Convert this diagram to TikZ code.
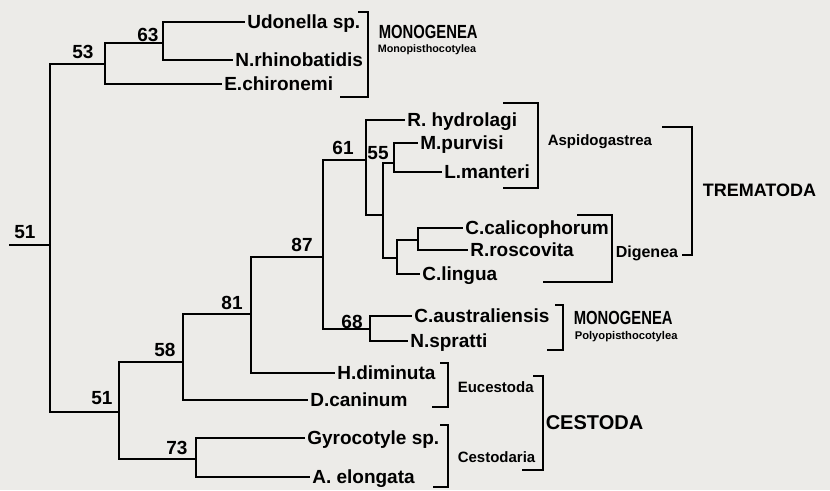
\documentclass[tikz,border=0pt]{standalone}
\usepackage{fontspec}
\setmainfont{Liberation Sans}
\newfontfamily\narrowsans[FakeStretch=0.78]{Liberation Sans}
\usepackage{tikz}
\definecolor{paper}{RGB}{236,235,232}

\begin{document}
\begin{tikzpicture}[x=1pt,y=-1pt, line width=1.6pt,
  every node/.style={font=\bfseries\fontsize{19}{21}\selectfont},
  taxon/.style={anchor=west, inner xsep=1.5pt, inner ysep=0pt, text height=13.6pt, text depth=0pt},
  boot/.style={inner sep=0pt},
  group/.style={anchor=west, inner sep=0pt},
  narrowgroup/.style={group, font=\narrowsans\bfseries\fontsize{19}{21}\selectfont},
  subgroup/.style={group, font=\bfseries\fontsize{15}{17}\selectfont},
  tinygroup/.style={group, font=\bfseries\fontsize{10.8}{12}\selectfont}]
  \fill[paper] (0,0) rectangle (830,490);
  \useasboundingbox (0,0) rectangle (830,490);

  % internal nodes of the tree
  \coordinate (rs) at (9,245);
  \coordinate (root) at (50,245);
  \coordinate (n53) at (105,64);
  \coordinate (n63) at (163,43);
  \coordinate (n51) at (119,412);
  \coordinate (n58) at (183,362);
  \coordinate (n81) at (251,314);
  \coordinate (n87) at (323,257);
  \coordinate (n61) at (366,160);
  \coordinate (n55) at (383,215);
  \coordinate (nml) at (394,163);
  \coordinate (ndg) at (397,258);
  \coordinate (ncr) at (418,240);
  \coordinate (n68) at (370,329);
  \coordinate (n73) at (196,459);

  % taxa
  \node[taxon] (udon) at (245,22) {Udonella sp.};
  \node[taxon] (nrhi) at (233,60) {N.rhinobatidis};
  \node[taxon] (echi) at (222,84) {E.chironemi};
  \node[taxon] (rhyd) at (405,120) {R. hydrolagi};
  \node[taxon] (mpur) at (418,143) {M.purvisi};
  \node[taxon] (lman) at (442,172) {L.manteri};
  \node[taxon] (ccal) at (463,228) {C.calicophorum};
  \node[taxon] (rros) at (468,250) {R.roscovita};
  \node[taxon] (clin) at (420,274) {C.lingua};
  \node[taxon] (caus) at (412,316) {C.australiensis};
  \node[taxon] (nspr) at (408,341) {N.spratti};
  \node[taxon] (hdim) at (335,373) {H.diminuta};
  \node[taxon] (dcan) at (308,400) {D.caninum};
  \node[taxon] (gyro) at (305,438) {Gyrocotyle sp.};
  \node[taxon] (aelo) at (310,477) {A. elongata};

  % branches
  \draw (rs) -- (root);
  \foreach \a/\b in {root/n53, root/n51, n53/n63, n53/echi, n63/udon, n63/nrhi,
      n51/n58, n51/n73, n58/n81, n58/dcan, n81/n87, n81/hdim, n87/n61, n87/n68,
      n61/rhyd, n61/n55, n55/nml, n55/ndg, nml/mpur, nml/lman, ndg/ncr, ndg/clin,
      ncr/ccal, ncr/rros, n68/caus, n68/nspr, n73/gyro, n73/aelo}
    \draw (\a) |- (\b);

  % bootstrap values
  \node[boot] (b51a) at (25,232) {51};
  \node[boot] (b53) at (83,52) {53};
  \node[boot] (b63) at (148,35) {63};
  \node[boot] (b61) at (343,148) {61};
  \node[boot] (b55) at (378,153) {55};
  \node[boot] (b87) at (302,245) {87};
  \node[boot] (b81) at (232,303) {81};
  \node[boot] (b58) at (165,350) {58};
  \node[boot] (b51b) at (102,398) {51};
  \node[boot] (b73) at (177,448) {73};
  \node[boot] (b68) at (352,322) {68};

  % clade brackets
  \foreach \xb/\xt/\yt/\xs/\ys in {368/358/12/340/97, 538/503/103/503/188,
      612/577/215/543/282, 692/662/127/682/255, 563/555/305/547/350,
      448/440/363/432/407, 448/440/425/433/487, 543/533/376/522/470}
    \draw (\xt,\yt) -| (\xb,\ys) -- (\xs,\ys);

  % clade names
  \node[narrowgroup] (mono1) at (378,32) {MONOGENEA};
  \node[tinygroup] (monop) at (377,50) {Monopisthocotylea};
  \node[subgroup] (aspi) at (547,142) {Aspidogastrea};
  \node[subgroup, font=\bfseries\fontsize{16}{18}\selectfont] (dige) at (615,253) {Digenea};
  \node[group, font=\bfseries\fontsize{18}{20}\selectfont] (trem) at (702,190) {TREMATODA};
  \node[narrowgroup] (mono2) at (573,318) {MONOGENEA};
  \node[tinygroup, font=\bfseries\fontsize{11.2}{13}\selectfont] (poly) at (574,337) {Polyopisthocotylea};
  \node[subgroup] (euce) at (457,387) {Eucestoda};
  \node[subgroup] (cesd) at (457,457) {Cestodaria};
  \node[group, font=\bfseries\fontsize{20}{22}\selectfont] (cest) at (545,423) {CESTODA};
\end{tikzpicture}
\end{document}
